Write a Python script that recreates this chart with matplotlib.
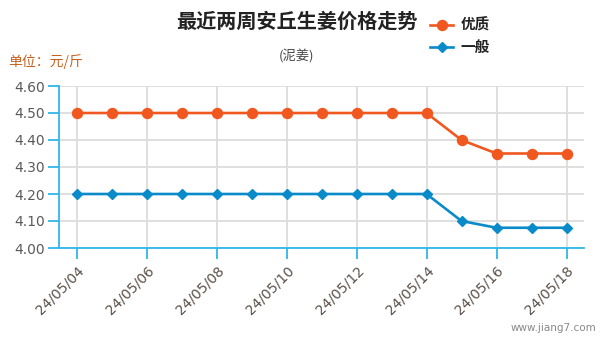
import matplotlib
matplotlib.use("Agg")
import matplotlib.pyplot as plt

plt.rcParams["font.family"] = ["Noto Sans CJK SC", "DejaVu Sans"]

dates = ["24/05/04", "24/05/05", "24/05/06", "24/05/07", "24/05/08",
         "24/05/09", "24/05/10", "24/05/11", "24/05/12", "24/05/13",
         "24/05/14", "24/05/15", "24/05/16", "24/05/17", "24/05/18"]
premium = [4.50, 4.50, 4.50, 4.50, 4.50, 4.50, 4.50, 4.50, 4.50, 4.50,
           4.50, 4.40, 4.35, 4.35, 4.35]
regular = [4.20, 4.20, 4.20, 4.20, 4.20, 4.20, 4.20, 4.20, 4.20, 4.20,
           4.20, 4.10, 4.075, 4.075, 4.075]
series_names = ["优质", "一般"]
y_ticks = [4.00, 4.10, 4.20, 4.30, 4.40, 4.50, 4.60]

ORANGE = "#f0581f"
BLUE = "#0a8bc9"
AXIS = "#2fb8ea"
GRID = "#dcdcdc"

W, H = 601, 341
fig = plt.figure(figsize=(W / 100, H / 100), dpi=100)
ax = fig.add_axes([59 / W, 1 - 248 / H, (584 - 59) / W, (248 - 86) / H])

x = list(range(len(dates)))
ax.plot(x, premium, color=ORANGE, lw=1.9, marker="o", ms=7.2,
        label=series_names[0], zorder=3, clip_on=False)
ax.plot(x, regular, color=BLUE, lw=1.9, marker="D", ms=5,
        label=series_names[1], zorder=3, clip_on=False)

ax.set_xlim(-0.5, len(dates) - 0.5)
ax.set_ylim(4.0, 4.6)

ax.set_yticks(y_ticks)
ax.set_yticklabels([f"{v:.2f}" for v in y_ticks], fontsize=10,
                   family="DejaVu Sans")
ax.set_xticks(x[::2])
ax.set_xticklabels(dates[::2], rotation=45, ha="right", va="top",
                   rotation_mode="anchor", fontsize=10,
                   family="DejaVu Sans")

ax.grid(True, color=GRID, lw=1.3, zorder=0)
ax.set_axisbelow(True)
for side in ("top", "right"):
    ax.spines[side].set_visible(False)
for side in ("left", "bottom"):
    ax.spines[side].set_color(AXIS)
    ax.spines[side].set_linewidth(1.3)
ax.tick_params(axis="both", colors=AXIS, length=8, width=1.3, pad=2)
ax.tick_params(axis="x", pad=3)
for lbl in ax.get_yticklabels():
    lbl.set_color("#5a5a5a")
for lbl in ax.get_xticklabels():
    lbl.set_color("#5a5048")

fig.text(297 / W, 1 - 21 / H, "最近两周安丘生姜价格走势", ha="center",
         va="center", fontsize=14.5, fontweight="bold", color="#222222")
fig.text(297 / W, 1 - 57 / H, "(泥姜)", ha="center", va="center",
         fontsize=9.5, color="#444444")
fig.text(8 / W, 1 - 62 / H, "单位：元/斤", ha="left", va="center",
         fontsize=10, color="#c8601e")
fig.text(596 / W, 1 - 328 / H, "www.jiang7.com", ha="right", va="center",
         fontsize=7.5, color="#888888", family="DejaVu Sans")

leg = fig.legend(loc="upper left", bbox_to_anchor=(424 / W, 1 - 11 / H),
                 frameon=False, handlelength=1.6, handletextpad=0.5,
                 labelspacing=0.4, borderaxespad=0,
                 prop={"size": 10.5, "weight": "bold"})
for t in leg.get_texts():
    t.set_color("#222222")

fig.savefig("out.png", dpi=100)
